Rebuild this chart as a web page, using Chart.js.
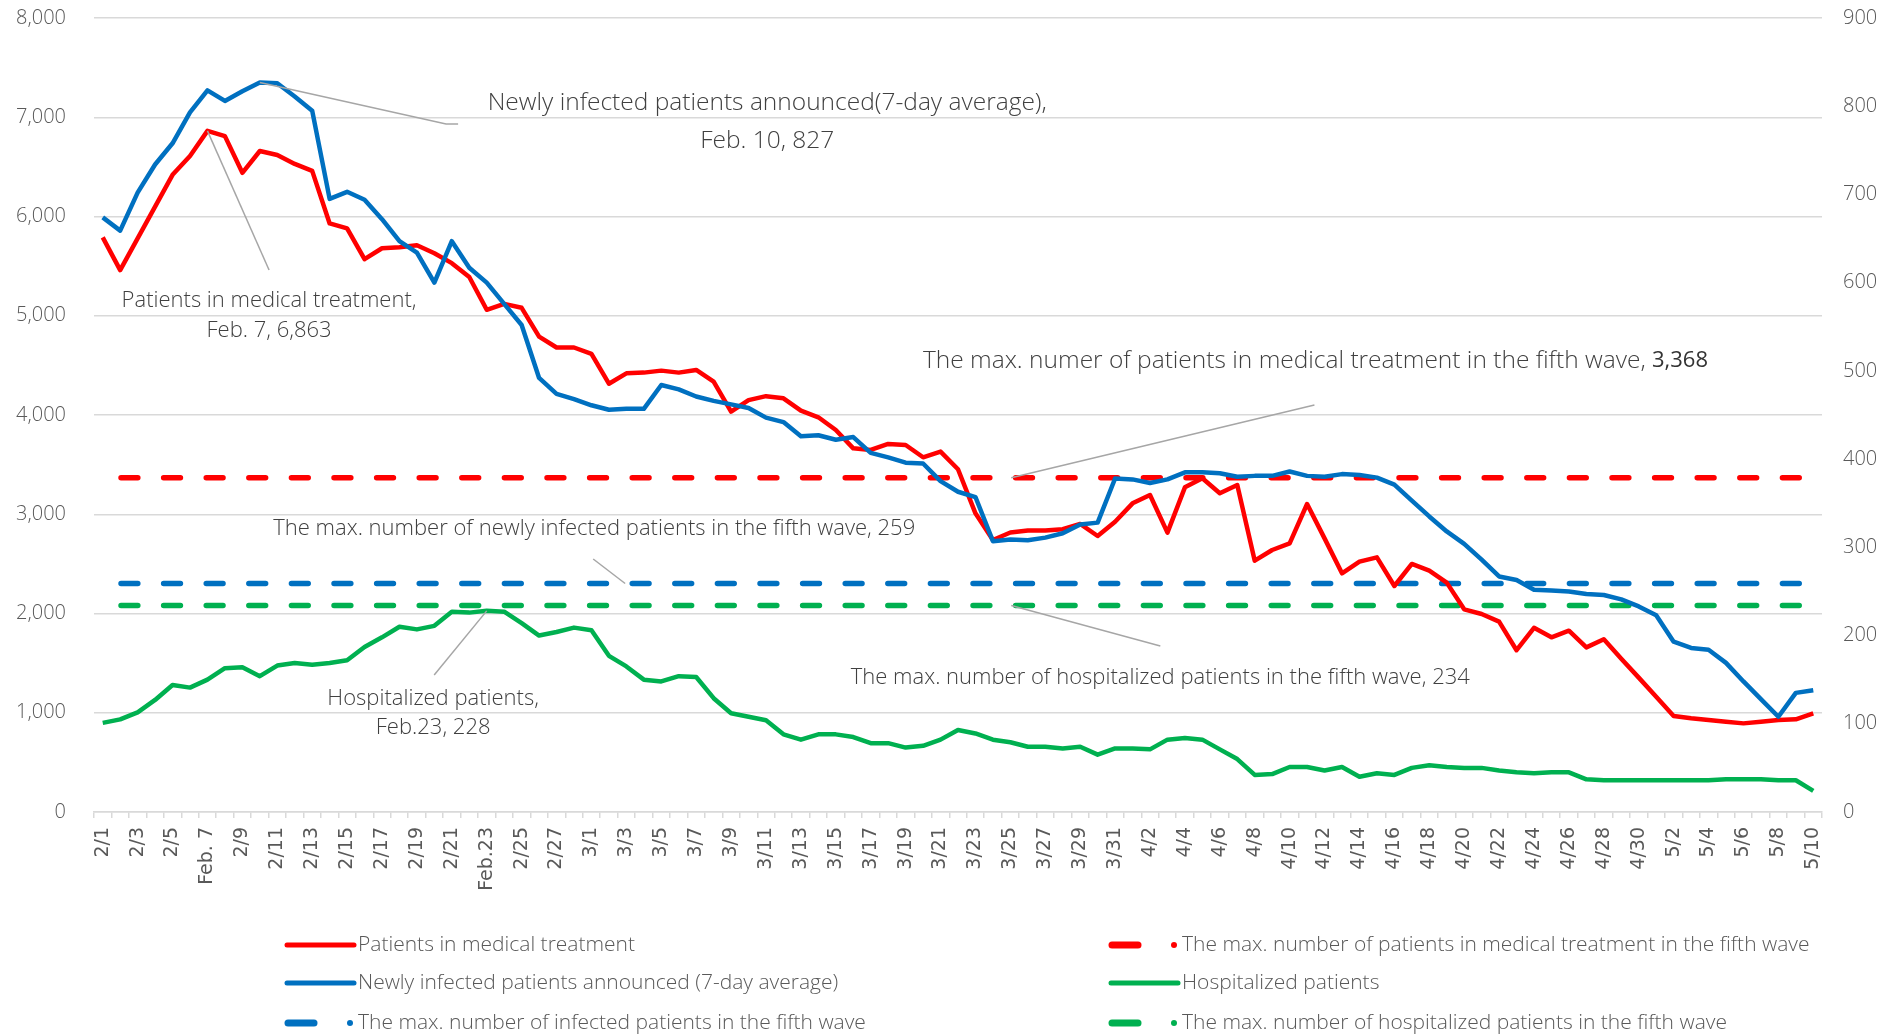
<!DOCTYPE html>
<html><head><meta charset="utf-8">
<script src="https://cdn.jsdelivr.net/npm/chart.js@4.4.1/dist/chart.umd.min.js"></script>
<style>
html,body{margin:0;padding:0;background:#fff;}
#wrap{position:relative;width:1898px;height:1035px;}
</style></head><body>
<div id="wrap"><canvas id="c" width="1898" height="1035"></canvas></div>
<script>
// ---------- DATA ----------
const dates = ['2/1','2/2','2/3','2/4','2/5','2/6','Feb. 7','2/8','2/9','2/10','2/11','2/12','2/13','2/14','2/15','2/16','2/17','2/18','2/19','2/20','2/21','2/22','Feb.23','2/24','2/25','2/26','2/27','2/28',
'3/1','3/2','3/3','3/4','3/5','3/6','3/7','3/8','3/9','3/10','3/11','3/12','3/13','3/14','3/15','3/16','3/17','3/18','3/19','3/20','3/21','3/22','3/23','3/24','3/25','3/26','3/27','3/28','3/29','3/30','3/31',
'4/1','4/2','4/3','4/4','4/5','4/6','4/7','4/8','4/9','4/10','4/11','4/12','4/13','4/14','4/15','4/16','4/17','4/18','4/19','4/20','4/21','4/22','4/23','4/24','4/25','4/26','4/27','4/28','4/29','4/30',
'5/1','5/2','5/3','5/4','5/5','5/6','5/7','5/8','5/9','5/10'];

// Patients in medical treatment (left axis)
const treatment = [5790,5460,5780,6100,6420,6610,6863,6810,6440,6660,6620,6530,6460,5930,5880,5570,5680,5690,5710,5630,5530,5390,5060,5120,5080,4790,4680,4680,
4615,4315,4420,4427,4447,4427,4454,4336,4034,4150,4190,4168,4044,3977,3849,3664,3648,3708,3698,3574,3631,3453,3009,2741,2816,2836,2836,2850,2902,2781,2925,
3110,3194,2815,3271,3362,3211,3295,2532,2640,2707,3103,2757,2405,2522,2566,2277,2499,2432,2311,2042,1995,1918,1630,1856,1760,1827,1659,1740,1545,1354,
1162,967,944,927,910,893,910,927,934,994];

// Newly infected patients announced, 7-day average (right axis)
const newlyInfected = [674,659,702,734,758,793,818,806,817,827,826,811,795,695,703,694,672,647,634,600,647,617,600,576,552,492,474,468,
461,456,457,457,484,479,471,466,462,458,447,442,426,427,422,425,407,402,396,395,375,363,357,307,309,308,311,316,326,328,378,
377,373,377,385,385,384,380,381,381,386,381,380,383,382,379,371,353,335,318,304,286,267,263,252,251,250,247,246,241,233,
223,193,186,184,169,148,128,108,135,138];

// Hospitalized patients (right axis)
const hospitalized = [101,105,113,127,144,141,150,163,164,154,166,169,167,169,172,187,198,210,207,211,227,226,228,227,214,200,204,209,
206,177,165,150,148,154,153,129,112,108,104,88,82,88,88,85,78,78,73,75,82,93,89,82,79,74,74,72,74,65,72,
72,71,82,84,82,71,60,42,43,51,51,47,51,40,44,42,50,53,51,50,50,47,45,44,45,45,37,36,36,36,
36,36,36,36,37,37,37,36,36,24];

// Fifth-wave maxima
const maxTreatment5th = 3368;
const maxInfected5th = 259;
const maxHospitalized5th = 234;

const leftAxis = {min: 0, max: 8000, step: 1000};
const rightAxis = {min: 0, max: 900, step: 100};

// ---------- STYLE ----------
const RED = '#ff0000', BLUE = '#0070c0', GREEN = '#00b050';
const TXT = '#595959';
const NOTE = '#404040';
const GRID = '#d9d9d9';
const FONT = "'Open Sans', 'Liberation Sans', sans-serif";
const BIG = "300 24.5px " + FONT;
const dash = {borderDash: [16.8, 25.8], borderDashOffset: 24.3, borderCapStyle: 'round', borderWidth: 5.5};
const first = dates[0], last = dates[dates.length - 1];

const datasets = [
  {label: 'Patients in medical treatment', data: treatment, yAxisID: 'y', borderColor: RED, borderWidth: 4.5, order: 2},
  Object.assign({label: 'The max. number of patients in medical treatment in the fifth wave',
    data: [{x: first, y: maxTreatment5th}, {x: last, y: maxTreatment5th}], yAxisID: 'y', borderColor: RED, order: 10}, dash),
  {label: 'Newly infected patients announced (7-day average)', data: newlyInfected, yAxisID: 'y1', borderColor: BLUE, borderWidth: 4.5, order: 1},
  {label: 'Hospitalized patients', data: hospitalized, yAxisID: 'y1', borderColor: GREEN, borderWidth: 4.5, order: 3},
  Object.assign({label: 'The max. number of infected patients in the fifth wave',
    data: [{x: first, y: maxInfected5th}, {x: last, y: maxInfected5th}], yAxisID: 'y1', borderColor: BLUE, order: 11}, dash),
  Object.assign({label: 'The max. number of hospitalized patients in the fifth wave',
    data: [{x: first, y: maxHospitalized5th}, {x: last, y: maxHospitalized5th}], yAxisID: 'y1', borderColor: GREEN, order: 12}, dash)
];
datasets.forEach(d => { d.pointRadius = 0; d.pointHoverRadius = 0; d.tension = 0; d.fill = false; d.borderJoinStyle = 'round'; });

// Callouts: anchor on a series value, leader path and text in data coordinates
const callouts = [
  {anchor: {i: 9, v: 827, axis: 'y1'}, path: [[19.67, 6932], [20.36, 6932]],
   lines: [{i: 38.07, v: 7144, parts: [{s: 'Newly infected patients announced(7-day average),', font: BIG}]},
           {i: 38.07, v: 6756, parts: [{s: 'Feb. 10, 827', font: BIG}]}]},
  {anchor: {i: 6, v: 6863, axis: 'y'}, path: [[9.53, 5461]],
   lines: [{i: 9.53, v: 5149, parts: [{s: 'Patients in medical treatment,'}]},
           {i: 9.53, v: 4852, parts: [{s: 'Feb. 7, 6,863'}]}]},
  {anchor: {i: 52.05, v: maxTreatment5th, axis: 'y'}, path: [[69.42, 4101]],
   lines: [{i: 69.48, v: 4544, parts: [{s: 'The max. numer of patients in medical treatment in the fifth wave, ', font: BIG}, {s: '3,368', font: "400 22px " + FONT, color: '#333333'}]}]},
  {anchor: {i: 29.93, v: maxInfected5th, axis: 'y1'}, path: [[28.1, 2549]],
   lines: [{i: 28.16, v: 2852, parts: [{s: 'The max. number of newly infected patients in the fifth wave, 259'}]}]},
  {anchor: {i: 52.05, v: maxHospitalized5th, axis: 'y1'}, path: [[60.59, 1673]],
   lines: [{i: 60.59, v: 1350, parts: [{s: 'The max. number of hospitalized patients in the fifth wave, 234'}]}]},
  {anchor: {i: 22, v: 228, axis: 'y1'}, path: [[18.99, 1380]],
   lines: [{i: 18.93, v: 1144, parts: [{s: 'Hospitalized patients,'}]},
           {i: 18.93, v: 851, parts: [{s: 'Feb.23, 228'}]}]}
];

const calloutPlugin = {
  id: 'callouts',
  afterDatasetsDraw(chart, args, o) {
    const {ctx, scales} = chart;
    const X = i => scales.x.getPixelForValue(i);
    const Y = v => scales.y.getPixelForValue(v);
    ctx.save();
    o.items.forEach(a => {
      const ax = scales[a.anchor.axis];
      ctx.beginPath();
      ctx.strokeStyle = o.lineColor; ctx.lineWidth = o.lineWidth;
      ctx.moveTo(X(a.anchor.i), ax.getPixelForValue(a.anchor.v));
      a.path.forEach(p => ctx.lineTo(X(p[0]), Y(p[1])));
      ctx.stroke();
      a.lines.forEach(l => {
        ctx.textBaseline = 'middle'; ctx.textAlign = 'left';
        let total = 0;
        const w = l.parts.map(p => { ctx.font = p.font || o.font; const m = ctx.measureText(p.s).width; total += m; return m; });
        let x = X(l.i) - total / 2;
        const y = Y(l.v);
        l.parts.forEach((p, k) => { ctx.font = p.font || o.font; ctx.fillStyle = p.color || o.color; ctx.fillText(p.s, x, y); x += w[k]; });
      });
    });
    ctx.restore();
  }
};

const legendPlugin = {
  id: 'gridLegend',
  afterDraw(chart, args, o) {
    const ctx = chart.ctx;
    ctx.save();
    chart.data.datasets.forEach((ds, k) => {
      const x0 = o.colX[k % 2], y = o.rowY[Math.floor(k / 2)];
      ctx.strokeStyle = ds.borderColor; ctx.fillStyle = ds.borderColor; ctx.lineCap = 'round';
      if (ds.borderDash) {
        ctx.lineWidth = 7;
        ctx.beginPath(); ctx.moveTo(x0 + 4, y); ctx.lineTo(x0 + 30, y); ctx.stroke();
        ctx.beginPath(); ctx.arc(x0 + 66, y, 3, 0, Math.PI * 2); ctx.fill();
      } else {
        ctx.lineWidth = 5;
        ctx.beginPath(); ctx.moveTo(x0 + 3, y); ctx.lineTo(x0 + 70, y); ctx.stroke();
      }
      ctx.font = o.font; ctx.fillStyle = o.color; ctx.textBaseline = 'middle'; ctx.textAlign = 'left';
      ctx.fillText(ds.label, x0 + 74, y);
    });
    ctx.restore();
  }
};

new Chart(document.getElementById('c'), {
  type: 'line',
  data: {labels: dates, datasets},
  plugins: [calloutPlugin, legendPlugin],
  options: {
    responsive: false, animation: false, devicePixelRatio: 1,
    layout: {padding: {top: 18, left: 0, right: 0, bottom: 0}},
    plugins: {
      legend: {display: false}, tooltip: {enabled: false},
      callouts: {items: callouts, font: "300 22px " + FONT, color: NOTE, lineColor: '#a6a6a6', lineWidth: 1.5},
      gridLegend: {colX: [284, 1108], rowY: [945, 983, 1023], font: "300 21px " + FONT, color: TXT}
    },
    scales: {
      x: {
        type: 'category', offset: true,
        grid: {offset: true, drawOnChartArea: false, drawTicks: true, tickLength: 6, color: GRID, lineWidth: 1.5},
        border: {display: true, color: GRID, width: 1.5},
        ticks: {autoSkip: false, minRotation: 90, maxRotation: 90, padding: 9, color: TXT,
          font: {family: "'DejaVu Sans', sans-serif", size: 19},
          callback: function(v, i) { return i % 2 === 0 ? this.getLabelForValue(v) : ''; }},
        afterFit: s => { s.height = 223; s.paddingLeft = 0; s.paddingRight = 0; }
      },
      y: {
        position: 'left', min: leftAxis.min, max: leftAxis.max,
        grid: {color: GRID, lineWidth: 1.5, drawTicks: false},
        border: {display: false},
        ticks: {stepSize: leftAxis.step, padding: 28, color: TXT, font: {family: FONT, size: 20, weight: 300},
          callback: v => v.toLocaleString('en-US')},
        afterFit: s => { s.width = 94; s.paddingTop = 0; s.paddingBottom = 0; }
      },
      y1: {
        position: 'right', min: rightAxis.min, max: rightAxis.max,
        grid: {drawOnChartArea: false, drawTicks: false},
        border: {display: false},
        ticks: {stepSize: rightAxis.step, padding: 21, color: TXT, font: {family: FONT, size: 20, weight: 300}},
        afterFit: s => { s.width = 76; s.paddingTop = 0; s.paddingBottom = 0; }
      }
    }
  }
});
</script>
</body></html>
